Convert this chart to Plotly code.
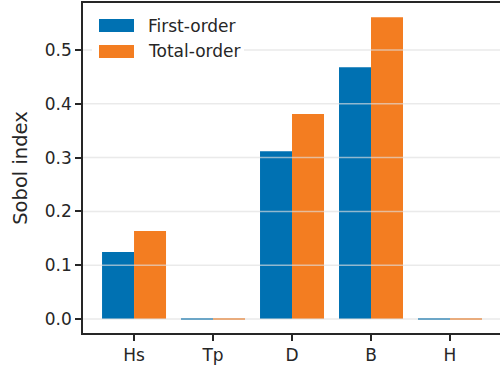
import plotly.graph_objects as go

categories = ["Hs", "Tp", "D", "B", "H"]
first_order = [0.1245, 0.0015, 0.312, 0.468, 0.0008]
total_order = [0.1635, 0.0018, 0.381, 0.561, 0.0018]
series_names = ["First-order", "Total-order"]
y_ticks = [0.0, 0.1, 0.2, 0.3, 0.4, 0.5]
y_tick_labels = ["0.0", "0.1", "0.2", "0.3", "0.4", "0.5"]

BLUE = "#0071B2"
ORANGE = "#F37D21"
INK = "#262626"
FONT = "DejaVu Sans"
FS = 17
FS_LABEL = 19.5

W, H = 500, 369
L, R, T, B = 83, 0, 3, 36
pw, ph = W - L - R, H - T - B

def px_x(x):
    return (x - L) / pw

def px_y(y):
    return (H - B - y) / ph

fig = go.Figure()
fig.add_trace(go.Bar(x=categories, y=first_order, name=series_names[0],
                     marker=dict(color=BLUE, line=dict(width=0)), showlegend=False))
fig.add_trace(go.Bar(x=categories, y=total_order, name=series_names[1],
                     marker=dict(color=ORANGE, line=dict(width=0)), showlegend=False))

shapes = []
# grid lines drawn above the bars (semi-transparent)
for v in y_ticks:
    shapes.append(dict(type="line", xref="paper", yref="y", x0=0, x1=1, y0=v, y1=v,
                       line=dict(color="rgba(222,222,222,0.65)", width=1.5), layer="above"))
# legend frame
shapes.append(dict(type="rect", xref="paper", yref="paper",
                   x0=px_x(92), x1=px_x(244), y0=px_y(64), y1=px_y(10),
                   fillcolor="white", line=dict(width=0), layer="above"))
# legend swatches
for name, col, (yt, yb) in zip(series_names, [BLUE, ORANGE], [(19, 32), (45, 58)]):
    shapes.append(dict(type="rect", xref="paper", yref="paper",
                       x0=px_x(99), x1=px_x(134), y0=px_y(yb), y1=px_y(yt),
                       fillcolor=col, line=dict(width=0), layer="above"))

annotations = []
for name, yc in zip(series_names, [26, 51]):
    annotations.append(dict(text=name, xref="paper", yref="paper", x=px_x(146), y=px_y(yc),
                            xanchor="left", yanchor="middle", showarrow=False,
                            font=dict(family=FONT, size=FS, color=INK)))

fig.update_layout(
    width=W, height=H,
    margin=dict(l=L, r=R, t=T, b=B, pad=0),
    plot_bgcolor="white", paper_bgcolor="white",
    barmode="group", bargap=0.19, bargroupgap=0,
    shapes=shapes, annotations=annotations,
    font=dict(family=FONT, size=FS, color=INK),
    xaxis=dict(range=[-0.646, 4.633], showgrid=False, zeroline=False, automargin=False,
               showline=True, mirror=True, linecolor=INK, linewidth=1.6,
               ticks="outside", ticklen=6, tickwidth=1.6, tickcolor=INK,
               tickfont=dict(family=FONT, size=FS, color=INK)),
    yaxis=dict(range=[-0.026, 0.5874], tickvals=y_ticks, ticktext=y_tick_labels,
               showgrid=False, zeroline=False, automargin=False,
               showline=True, linecolor=INK, linewidth=1.6,
               ticks="outside", ticklen=6, tickwidth=1.6, tickcolor=INK,
               tickfont=dict(family=FONT, size=FS, color=INK),
               title=dict(text="Sobol index", standoff=12,
                          font=dict(family=FONT, size=FS_LABEL, color=INK))),
)

fig.write_html("out.html", config={"displayModeBar": False},
               post_script="document.body.style.margin='0';document.body.style.overflow='hidden';")
